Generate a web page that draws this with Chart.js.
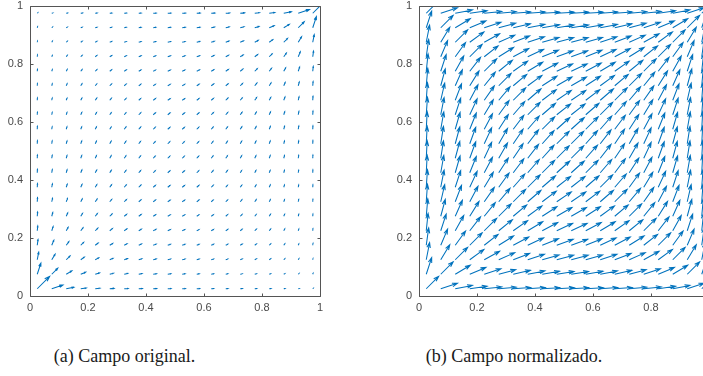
<!DOCTYPE html>
<html><head><meta charset="utf-8">
<script src="https://cdn.jsdelivr.net/npm/chart.js@4.4.1/dist/chart.umd.min.js"></script>
<style>
html,body{margin:0;padding:0;background:#fff;overflow:hidden;width:703px;height:376px;}
#wrap{position:relative;width:703px;height:376px;overflow:hidden;background:#fff;}
canvas{position:absolute;top:0;}
.cap{position:absolute;top:346px;width:240px;text-align:center;font-family:"Liberation Serif","Times New Roman",serif;font-size:18px;line-height:20px;color:#1a1a1a;white-space:nowrap;}
</style></head><body>
<div id="wrap">
<canvas id="c1" width="340" height="320" style="left:0px"></canvas>
<canvas id="c2" width="340" height="320" style="left:389px"></canvas>
<div class="cap" style="left:4.5px">(a) Campo original.</div>
<div class="cap" style="left:394px">(b) Campo normalizado.</div>
</div>
<script>
// ---- data ----
const gridX = [0.025,0.075,0.125,0.175,0.225,0.275,0.325,0.375,0.425,0.475,0.525,0.575,0.625,0.675,0.725,0.775,0.825,0.875,0.925,0.975];
const gridY = [0.025,0.075,0.125,0.175,0.225,0.275,0.325,0.375,0.425,0.475,0.525,0.575,0.625,0.675,0.725,0.775,0.825,0.875,0.925,0.975];
const tickValues = [0,0.2,0.4,0.6,0.8,1];
const tickLabels = ['0','0.2','0.4','0.6','0.8','1'];
// arrow direction in degrees, rows from y=0.025 (bottom) to y=0.975 (top)
const angleDeg = [
[45,18,11,8,6,5,4,4,3,3,3,3,4,4,5,6,8,11,18,45],
[72,45,31,23,18,15,13,11,10,9,9,10,11,13,15,18,23,31,45,72],
[79,59,45,36,29,24,21,18,16,15,15,16,18,21,24,29,36,45,59,79],
[82,67,54,45,38,32,28,25,22,20,20,22,25,28,32,38,45,54,67,82],
[84,72,61,52,45,39,35,31,28,25,25,28,31,35,39,45,52,61,72,84],
[85,75,66,58,51,45,40,36,33,30,30,33,36,40,45,51,58,66,75,85],
[86,77,69,62,55,50,45,41,37,34,34,37,41,45,50,55,62,69,77,86],
[86,79,72,65,59,54,49,45,41,38,38,41,45,49,54,59,65,72,79,86],
[87,80,74,68,62,57,53,49,45,42,42,45,49,53,57,62,68,74,80,87],
[87,81,75,70,65,60,56,52,48,45,45,48,52,56,60,65,70,75,81,87],
[87,81,75,70,65,60,56,52,48,45,45,48,52,56,60,65,70,75,81,87],
[87,80,74,68,62,57,53,49,45,42,42,45,49,53,57,62,68,74,80,87],
[86,79,72,65,59,54,49,45,41,38,38,41,45,49,54,59,65,72,79,86],
[86,77,69,62,55,50,45,41,37,34,34,37,41,45,50,55,62,69,77,86],
[85,75,66,58,51,45,40,36,33,30,30,33,36,40,45,51,58,66,75,85],
[84,72,61,52,45,39,35,31,28,25,25,28,31,35,39,45,52,61,72,84],
[82,67,54,45,38,32,28,25,22,20,20,22,25,28,32,38,45,54,67,82],
[79,59,45,36,29,24,21,18,16,15,15,16,18,21,24,29,36,45,59,79],
[72,45,31,23,18,15,13,11,10,9,9,10,11,13,15,18,23,31,45,72],
[45,18,11,8,6,5,4,4,3,3,3,3,4,4,5,6,8,11,18,45]
];
// magnitude of the original field (relative to the largest vector), same row order
const magOriginal = [
[1.00,0.67,0.44,0.32,0.27,0.24,0.22,0.20,0.19,0.18,0.17,0.16,0.14,0.13,0.12,0.11,0.10,0.07,0.06,0.04],
[0.67,0.48,0.37,0.30,0.25,0.22,0.20,0.19,0.18,0.17,0.16,0.14,0.13,0.12,0.11,0.10,0.08,0.07,0.06,0.06],
[0.44,0.37,0.30,0.25,0.22,0.20,0.19,0.18,0.17,0.16,0.16,0.14,0.13,0.12,0.12,0.11,0.10,0.08,0.07,0.07],
[0.32,0.30,0.25,0.23,0.21,0.19,0.18,0.17,0.17,0.16,0.16,0.14,0.14,0.13,0.13,0.12,0.11,0.10,0.08,0.10],
[0.27,0.25,0.22,0.21,0.20,0.19,0.18,0.17,0.17,0.16,0.16,0.14,0.14,0.14,0.13,0.13,0.12,0.11,0.10,0.11],
[0.24,0.22,0.20,0.19,0.19,0.18,0.17,0.17,0.16,0.16,0.16,0.14,0.14,0.14,0.14,0.13,0.13,0.12,0.11,0.12],
[0.22,0.20,0.19,0.18,0.18,0.17,0.17,0.17,0.16,0.16,0.16,0.16,0.14,0.14,0.14,0.14,0.13,0.12,0.12,0.13],
[0.20,0.19,0.18,0.17,0.17,0.17,0.17,0.17,0.16,0.16,0.16,0.16,0.16,0.14,0.14,0.14,0.14,0.13,0.13,0.14],
[0.19,0.18,0.17,0.17,0.17,0.16,0.16,0.16,0.16,0.16,0.16,0.16,0.16,0.16,0.14,0.14,0.14,0.14,0.14,0.16],
[0.18,0.17,0.16,0.16,0.16,0.16,0.16,0.16,0.16,0.16,0.16,0.16,0.16,0.16,0.16,0.16,0.16,0.16,0.16,0.17],
[0.17,0.16,0.16,0.16,0.16,0.16,0.16,0.16,0.16,0.16,0.16,0.16,0.16,0.16,0.16,0.16,0.16,0.16,0.17,0.18],
[0.16,0.14,0.14,0.14,0.14,0.14,0.16,0.16,0.16,0.16,0.16,0.16,0.16,0.16,0.16,0.17,0.17,0.17,0.18,0.19],
[0.14,0.13,0.13,0.14,0.14,0.14,0.14,0.16,0.16,0.16,0.16,0.16,0.17,0.17,0.17,0.17,0.17,0.18,0.19,0.20],
[0.13,0.12,0.12,0.13,0.14,0.14,0.14,0.14,0.16,0.16,0.16,0.16,0.17,0.17,0.17,0.18,0.18,0.19,0.20,0.22],
[0.12,0.11,0.12,0.13,0.13,0.14,0.14,0.14,0.14,0.16,0.16,0.16,0.17,0.17,0.18,0.19,0.19,0.20,0.22,0.24],
[0.11,0.10,0.11,0.12,0.13,0.13,0.14,0.14,0.14,0.16,0.16,0.17,0.17,0.18,0.19,0.20,0.21,0.22,0.25,0.27],
[0.10,0.08,0.10,0.11,0.12,0.13,0.13,0.14,0.14,0.16,0.16,0.17,0.17,0.18,0.19,0.21,0.23,0.25,0.30,0.32],
[0.07,0.07,0.08,0.10,0.11,0.12,0.12,0.13,0.14,0.16,0.16,0.17,0.18,0.19,0.20,0.22,0.25,0.30,0.37,0.44],
[0.06,0.06,0.07,0.08,0.10,0.11,0.12,0.13,0.14,0.16,0.17,0.18,0.19,0.20,0.22,0.25,0.30,0.37,0.48,0.67],
[0.04,0.06,0.07,0.10,0.11,0.12,0.13,0.14,0.16,0.17,0.18,0.19,0.20,0.22,0.24,0.27,0.32,0.44,0.67,1.00]
];

// ---- styles ----
const ARROW_SCALE = 0.0605;   // data units for the longest vector
const HEAD_ALPHA = 0.30, HEAD_BETA = 0.33;
const ARROW_COLOR = '#0072BD';
const ARROW_WIDTH = 1.05;
const AXIS_COLOR = '#555555';
const TICK_COLOR = '#4a4a4a';
const TICK_LEN = 3;

function buildPoints(normalized){
  const pts = [];
  for (let j = 0; j < gridY.length; j++){
    for (let i = 0; i < gridX.length; i++){
      const th = angleDeg[j][i] * Math.PI / 180;
      const m = normalized ? 1 : magOriginal[j][i];
      pts.push({x: gridX[i], y: gridY[j], u: m * Math.cos(th), v: m * Math.sin(th)});
    }
  }
  return pts;
}

const quiverPlugin = {
  id: 'quiver',
  afterDatasetsDraw(chart){
    const {ctx, chartArea: a, scales: {x, y}} = chart;
    ctx.save();
    ctx.beginPath();
    ctx.rect(a.left, a.top, a.right - a.left, a.bottom - a.top);
    ctx.clip();
    ctx.strokeStyle = ARROW_COLOR;
    ctx.lineWidth = ARROW_WIDTH;
    ctx.lineJoin = 'miter';
    chart.data.datasets[0].data.forEach(p => {
      const u = p.u * ARROW_SCALE, v = p.v * ARROW_SCALE;
      const tx = p.x + u, ty = p.y + v;
      const h1x = tx - HEAD_ALPHA * (u + HEAD_BETA * v), h1y = ty - HEAD_ALPHA * (v - HEAD_BETA * u);
      const h2x = tx - HEAD_ALPHA * (u - HEAD_BETA * v), h2y = ty - HEAD_ALPHA * (v + HEAD_BETA * u);
      ctx.beginPath();
      ctx.moveTo(x.getPixelForValue(p.x), y.getPixelForValue(p.y));
      ctx.lineTo(x.getPixelForValue(tx), y.getPixelForValue(ty));
      ctx.moveTo(x.getPixelForValue(h1x), y.getPixelForValue(h1y));
      ctx.lineTo(x.getPixelForValue(tx), y.getPixelForValue(ty));
      ctx.lineTo(x.getPixelForValue(h2x), y.getPixelForValue(h2y));
      ctx.stroke();
    });
    ctx.restore();
  }
};

const boxPlugin = {
  id: 'box',
  afterDraw(chart){
    const {ctx, chartArea: a, scales: {x, y}} = chart;
    ctx.save();
    ctx.strokeStyle = AXIS_COLOR;
    ctx.lineWidth = 1;
    const L = a.left + 0.5, R = a.right + 0.5, T = a.top + 0.5, B = a.bottom + 0.5;
    ctx.beginPath();
    ctx.moveTo(L, T); ctx.lineTo(R, T); ctx.lineTo(R, B); ctx.lineTo(L, B); ctx.closePath();
    x.ticks.forEach(t => {
      const px = Math.round(x.getPixelForValue(t.value)) + 0.5;
      ctx.moveTo(px, B); ctx.lineTo(px, B - TICK_LEN);
      ctx.moveTo(px, T); ctx.lineTo(px, T + TICK_LEN);
    });
    y.ticks.forEach(t => {
      const py = Math.round(y.getPixelForValue(t.value)) + 0.5;
      ctx.moveTo(L, py); ctx.lineTo(L + TICK_LEN, py);
      ctx.moveTo(R, py); ctx.lineTo(R - TICK_LEN, py);
    });
    ctx.stroke();
    ctx.restore();
  }
};

function axisOpts(horizontal){
  return {
    type: 'linear', min: 0, max: 1,
    position: horizontal ? 'bottom' : 'left',
    afterBuildTicks: s => { s.ticks = tickValues.map(v => ({value: v})); },
    afterFit: s => {
      if (horizontal) { s.height = 24; s.paddingLeft = 0; s.paddingRight = 0; }
      else { s.width = 30; s.paddingTop = 0; s.paddingBottom = 0; }
    },
    grid: {display: false, drawTicks: false},
    border: {display: false},
    ticks: {
      padding: horizontal ? 5 : 7,
      color: TICK_COLOR,
      font: {family: 'Liberation Sans, Arial, sans-serif', size: 11},
      maxRotation: 0, autoSkip: false,
      callback: (v, i) => tickLabels[i]
    }
  };
}

function makeChart(id, normalized){
  return new Chart(document.getElementById(id), {
    type: 'scatter',
    data: {datasets: [{data: buildPoints(normalized), pointRadius: 0, pointHoverRadius: 0, showLine: false}]},
    options: {
      responsive: false, animation: false, devicePixelRatio: 1,
      layout: {padding: {left: 0, right: 20, top: 6, bottom: 0}},
      plugins: {legend: {display: false}, tooltip: {enabled: false}, title: {display: false}},
      events: [],
      scales: {x: axisOpts(true), y: axisOpts(false)}
    },
    plugins: [quiverPlugin, boxPlugin]
  });
}

makeChart('c1', false);
makeChart('c2', true);
</script>
</body></html>
